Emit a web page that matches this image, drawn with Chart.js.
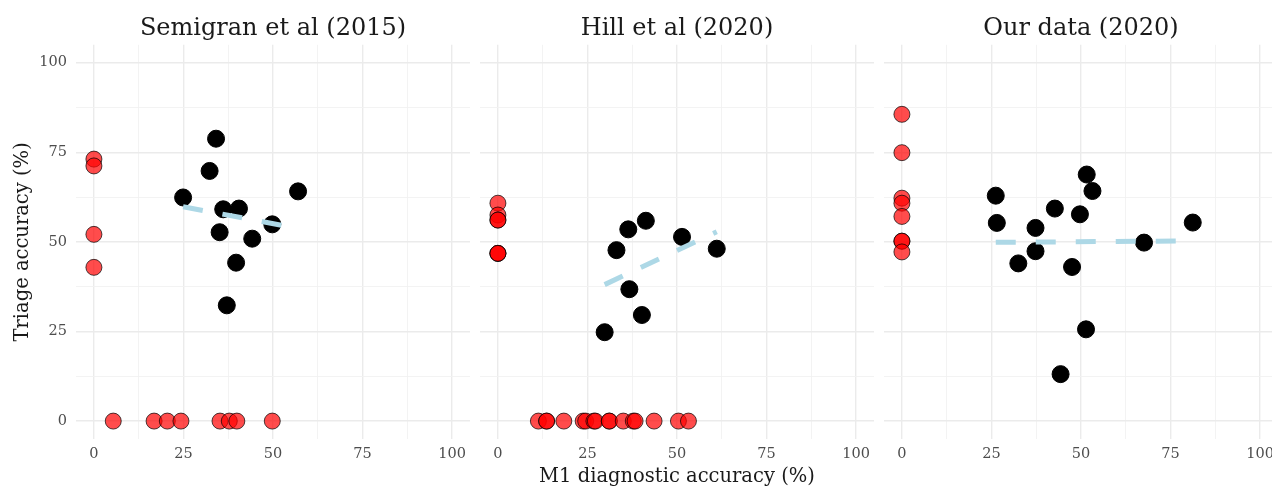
<!DOCTYPE html>
<html>
<head>
<meta charset="utf-8">
<script src="https://cdn.jsdelivr.net/npm/chart.js@4/dist/chart.umd.min.js"></script>
<style>
  html, body { margin: 0; padding: 0; background: #fff; overflow: hidden; width: 1272px; height: 489px; }
  .panel { position: absolute; top: 0; height: 489px; }
</style>
</head>
<body>
<div class="panel" style="left:0;width:470px"><canvas id="c1"></canvas></div>
<div class="panel" style="left:480px;width:394px"><canvas id="c2"></canvas></div>
<div class="panel" style="left:884px;width:394px"><canvas id="c3"></canvas></div>
<script>
// facet titles and axis labels
const panelTitles = ['Semigran et al (2015)', 'Hill et al (2020)', 'Our data (2020)'];
const xTitle = 'M1 diagnostic accuracy (%)';
const yTitle = 'Triage accuracy (%)';
const gridValues = [0, 12.5, 25, 37.5, 50, 62.5, 75, 87.5, 100];

// Semigran et al (2015)
const semigranX = [24.9, 34.1, 32.3, 36.1, 40.5, 35.1, 44.2, 49.8, 39.7, 37.1, 57.0];
const semigranY = [62.4, 78.8, 69.8, 59.1, 59.3, 52.7, 50.9, 54.9, 44.2, 32.3, 64.1];
const semigranRedX = [0, 0, 0, 0, 5.4, 16.8, 20.5, 24.3, 35.2, 37.8, 39.9, 49.8];
const semigranRedY = [73.1, 71.2, 52.1, 42.9, 0, 0, 0, 0, 0, 0, 0, 0];

// Hill et al (2020)
const hillX = [29.8, 33.1, 36.4, 41.3, 36.7, 40.2, 51.4, 61.1];
const hillY = [24.8, 47.7, 53.5, 55.9, 36.8, 29.6, 51.4, 48.1];
const hillRedX = [0, 0, 0, 0, 0, 0, 0,
  11.3, 13.6, 13.6, 18.4, 23.8, 24.5, 26.8, 27.2, 31.1, 31.1, 35.0, 37.8, 38.3, 43.6, 50.4, 53.2];
const hillRedY = [60.8, 57.5, 56.1, 56.1, 46.8, 46.8, 46.8,
  0, 0, 0, 0, 0, 0, 0, 0, 0, 0, 0, 0, 0, 0, 0, 0];

// Our data (2020)
const ourX = [26.2, 26.5, 32.5, 37.3, 37.3, 42.7, 47.5, 49.7, 51.6, 53.2, 51.4, 44.3, 67.6, 81.2];
const ourY = [62.9, 55.3, 44.0, 53.9, 47.4, 59.3, 43.0, 57.7, 68.8, 64.2, 25.6, 13.1, 49.8, 55.4];
const ourRedX = [0, 0, 0, 0, 0, 0, 0, 0];
const ourRedY = [85.6, 74.9, 62.2, 60.8, 57.1, 50.2, 50.2, 47.2];

const FONT = 'DejaVu Serif';

function pairs(xs, ys) {
  return xs.map((x, i) => ({ x: x, y: ys[i] }));
}

// straight least squares line over the black points, like geom_smooth(method = "lm")
function fitLine(xs, ys) {
  const n = xs.length;
  const mx = xs.reduce((a, b) => a + b, 0) / n;
  const my = ys.reduce((a, b) => a + b, 0) / n;
  let sxy = 0, sxx = 0;
  for (let i = 0; i < n; i++) {
    sxy += (xs[i] - mx) * (ys[i] - my);
    sxx += (xs[i] - mx) * (xs[i] - mx);
  }
  const slope = sxy / sxx;
  const lo = Math.min(...xs), hi = Math.max(...xs);
  return [{ x: lo, y: my + slope * (lo - mx) }, { x: hi, y: my + slope * (hi - mx) }];
}

function gridColor(ctx) {
  return ctx.tick && ctx.tick.value % 25 === 0 ? '#EBEBEB' : '#F2F2F2';
}
function gridWidth(ctx) {
  return ctx.tick && ctx.tick.value % 25 === 0 ? 1.4 : 0.9;
}

function makePanel(id, title, xs, ys, redX, redY, first, middle) {
  new Chart(document.getElementById(id), {
    type: 'scatter',
    data: {
      datasets: [
        {
          type: 'line',
          data: fitLine(xs, ys),
          borderColor: '#ADD8E6',
          borderWidth: 5,
          borderDash: [20, 20],
          borderCapStyle: 'butt',
          pointRadius: 0,
          fill: false,
          order: 0
        },
        {
          data: pairs(xs, ys),
          backgroundColor: '#000000',
          borderColor: '#000000',
          borderWidth: 1,
          pointRadius: 8.5,
          order: 1
        },
        {
          data: pairs(redX, redY),
          backgroundColor: 'rgba(255,0,0,0.7)',
          borderColor: 'rgba(0,0,0,0.7)',
          borderWidth: 1,
          pointRadius: 8,
          order: 2
        }
      ]
    },
    options: {
      responsive: true,
      maintainAspectRatio: false,
      animation: false,
      layout: { padding: 0, autoPadding: false },
      plugins: {
        legend: { display: false },
        tooltip: { enabled: false },
        title: {
          display: true,
          text: title,
          fullSize: false,
          color: '#1A1A1A',
          font: { family: FONT, size: 24, weight: 'normal', lineHeight: 1.2 },
          padding: { top: 14, bottom: 2 }
        }
      },
      scales: {
        x: {
          type: 'linear',
          min: -5,
          max: 105,
          afterBuildTicks: s => { s.ticks = gridValues.map(v => ({ value: v })); },
          afterFit: s => { s.height = 50; s.paddingLeft = 0; s.paddingRight = 0; },
          ticks: {
            autoSkip: false,
            maxRotation: 0,
            padding: 7,
            color: '#4D4D4D',
            font: { family: FONT, size: 14.5 },
            callback: v => (v % 25 === 0 ? String(v) : '')
          },
          grid: { color: gridColor, lineWidth: gridWidth, drawTicks: false },
          border: { display: false },
          title: {
            display: middle,
            text: xTitle,
            color: '#1A1A1A',
            font: { family: FONT, size: 19.5, weight: 'normal' },
            padding: 0
          }
        },
        y: {
          type: 'linear',
          min: -5,
          max: 105,
          afterBuildTicks: s => { s.ticks = gridValues.map(v => ({ value: v })); },
          afterFit: s => { s.width = first ? 76 : 0; s.paddingTop = 0; s.paddingBottom = 0; },
          ticks: {
            display: first,
            autoSkip: false,
            padding: 9,
            color: '#4D4D4D',
            font: { family: FONT, size: 14.5 },
            callback: v => (v % 25 === 0 ? String(v) : '')
          },
          grid: { color: gridColor, lineWidth: gridWidth, drawTicks: false },
          border: { display: false },
          title: {
            display: first,
            text: yTitle,
            color: '#1A1A1A',
            font: { family: FONT, size: 19.5, weight: 'normal' },
            padding: { top: 11, bottom: 0 }
          }
        }
      }
    }
  });
}

makePanel('c1', panelTitles[0], semigranX, semigranY, semigranRedX, semigranRedY, true, false);
makePanel('c2', panelTitles[1], hillX, hillY, hillRedX, hillRedY, false, true);
makePanel('c3', panelTitles[2], ourX, ourY, ourRedX, ourRedY, false, false);
</script>
</body>
</html>
